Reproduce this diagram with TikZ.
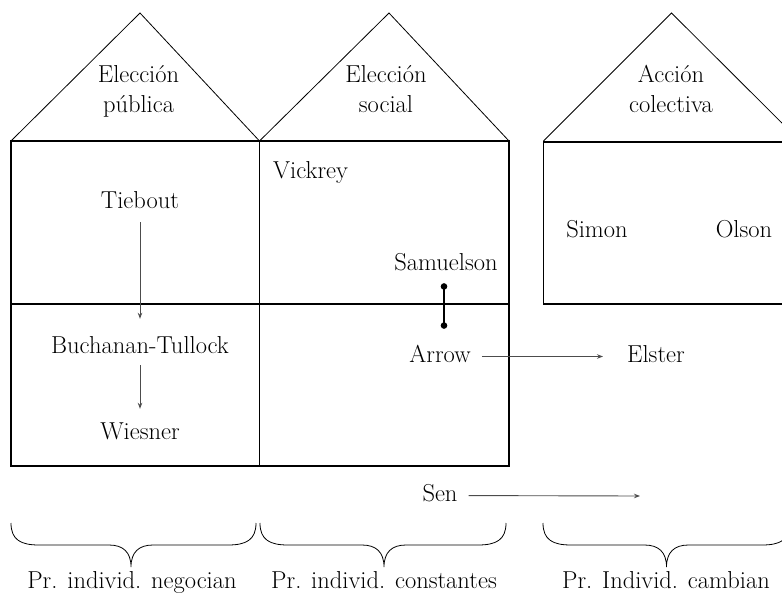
\documentclass[tikz,border=0pt]{standalone}
\usetikzlibrary{arrows.meta}
\begin{document}
\begin{tikzpicture}[x=1pt,y=-1pt,
  lbl/.style={font=\fontsize{24.5}{29}\selectfont, inner sep=0pt, text height=16pt, text depth=5pt, anchor=base},
  wall/.style={line width=1.1pt, black},
  roof/.style={line width=0.8pt, black, line join=miter},
  flow/.style={line width=0.9pt, black!70, -{Stealth[length=6pt,width=4.5pt]}},
  link/.style={line width=1.1pt, black, {Circle[length=6.5pt]}-{Circle[length=6.5pt]}},
  bracepath/.style={line width=0.8pt, black}]
\clip (0,0) rectangle (782,594);
% houses
\draw[roof] (11,141) -- (140,13) -- (259.5,141) -- (389,13) -- (509,141);
\draw[wall] (11,141) rectangle (509,466);
\draw[wall] (259.5,141) -- (259.5,466);
\draw[wall] (11,304) -- (509,304);
\draw[roof] (543.5,141) -- (671.5,13) -- (800,141);
\draw[wall] (795,142) -- (543.5,142) -- (543.5,304) -- (795,304);
% roof labels
\node[lbl] (ep1) at (138.5,83) {Elección};
\node[lbl] (ep2) at (138.5,112) {pública};
\node[lbl] (es1) at (386,83) {Elección};
\node[lbl] (es2) at (386,112) {social};
\node[lbl] (ac1) at (671,83) {Acción};
\node[lbl] (ac2) at (671,112) {colectiva};
% names
\node[lbl] (tie) at (140,208) {Tiebout};
\node[lbl] (buc) at (140,353) {Buchanan-Tullock};
\node[lbl] (wie) at (140,439) {Wiesner};
\node[lbl,anchor=base west] (vic) at (273,178) {Vickrey};
\node[lbl] (sam) at (446,270) {Samuelson};
\node[lbl] (arr) at (440,362) {Arrow};
\node[lbl] (els) at (656,362) {Elster};
\node[lbl] (sim) at (597,237) {Simon};
\node[lbl] (ols) at (744,237) {Olson};
\node[lbl] (sen) at (440,501) {Sen};
\coordinate (senend) at (640,496);
% connectors
\draw[flow, shorten <=9pt, shorten >=18pt] (tie) -- (buc);
\draw[flow, shorten <=7pt, shorten >=14pt] (buc) -- (wie);
\draw[link] ([xshift=-2pt,yshift=-8pt]sam.south) -- ([xshift=4pt,yshift=17pt]arr.north);
\draw[flow, shorten <=11pt, shorten >=24pt] (arr) -- (els);
\draw[flow, shorten <=11pt] (sen) -- (senend);
% braces
\foreach \a/\m/\b/\n in {11/131/256/b1, 260/384/506/b2, 543/666.5/790/b3}{
  \draw[bracepath] (\a,523) .. controls (\a,540) and (\a+10,545) .. (\a+28,545)
    -- (\m-22,545) .. controls (\m-8,545) and (\m,552) .. (\m,567)
    .. controls (\m,552) and (\m+8,545) .. (\m+22,545)
    -- (\b-28,545) .. controls (\b-10,545) and (\b,540) .. (\b,523);
}
\node[lbl] (l1) at (132,588) {Pr. individ. negocian};
\node[lbl] (l2) at (384,588) {Pr. individ. constantes};
\node[lbl] (l3) at (666,588) {Pr. Individ. cambian};
\end{tikzpicture}
\end{document}
